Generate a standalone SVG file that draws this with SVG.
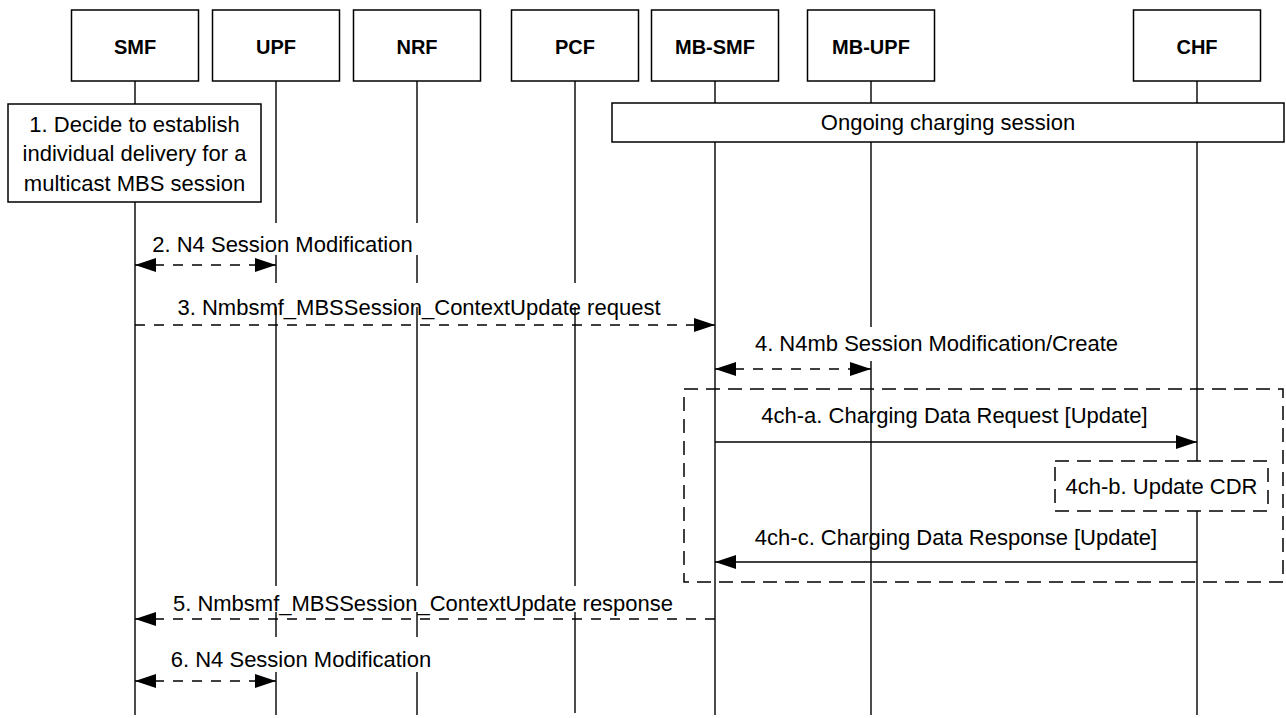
<svg xmlns="http://www.w3.org/2000/svg" width="1286" height="718" viewBox="0 0 1286 718">
<style>
.bg{fill:#fff}
.box{fill:#fff;stroke:#000;stroke-width:1.5}
.life{stroke:#000;stroke-width:1.4;fill:none}
.hdr{font-family:"Liberation Sans",Arial,sans-serif;font-weight:bold;font-size:20px;text-anchor:middle;fill:#000}
.t{font-family:"Liberation Sans",Arial,sans-serif;font-size:22px;text-anchor:middle;fill:#000}
.dash{stroke:#000;stroke-width:1.5;fill:none;stroke-dasharray:10 9}
.solid{stroke:#000;stroke-width:1.5;fill:none}
.dbox{fill:none;stroke:#000;stroke-width:1.5;stroke-dasharray:14 8}
.dboxw{fill:#fff;stroke:#000;stroke-width:1.5;stroke-dasharray:14 8}
.lbg{fill:#fff;stroke:none}
</style>
<defs>
<marker id="ah" markerUnits="userSpaceOnUse" markerWidth="21" markerHeight="14" refX="21" refY="7" orient="auto-start-reverse" viewBox="0 0 21 14">
<path d="M0,0 L21,7 L0,14 z" fill="#000"/>
</marker>
</defs>
<rect x="0" y="0" width="1286" height="718" fill="#fff"/>

<g id="lifelines">
<line class="life" x1="135" y1="81" x2="135" y2="715"/>
<line class="life" x1="276" y1="81" x2="276" y2="715"/>
<line class="life" x1="417" y1="81" x2="417" y2="715"/>
<line class="life" x1="575" y1="81" x2="575" y2="713"/>
<line class="life" x1="715" y1="81" x2="715" y2="715"/>
<line class="life" x1="871" y1="81" x2="871" y2="715"/>
<line class="life" x1="1197" y1="81" x2="1197" y2="715"/>
</g>

<g id="SMF"><rect class="box" x="71.5" y="10" width="127" height="71"/><text class="hdr" x="135" y="54">SMF</text></g>
<g id="UPF"><rect class="box" x="212.5" y="10" width="127" height="71"/><text class="hdr" x="276" y="54">UPF</text></g>
<g id="NRF"><rect class="box" x="353.5" y="10" width="127" height="71"/><text class="hdr" x="417" y="54">NRF</text></g>
<g id="PCF"><rect class="box" x="511.5" y="10" width="127" height="71"/><text class="hdr" x="575" y="54">PCF</text></g>
<g id="MB-SMF"><rect class="box" x="651.5" y="10" width="127" height="71"/><text class="hdr" x="715" y="54">MB-SMF</text></g>
<g id="MB-UPF"><rect class="box" x="807.5" y="10" width="127" height="71"/><text class="hdr" x="871" y="54">MB-UPF</text></g>
<g id="CHF"><rect class="box" x="1133.5" y="10" width="127" height="71"/><text class="hdr" x="1197" y="54">CHF</text></g>

<g id="step1">
<rect class="box" x="8" y="104" width="253" height="98"/>
<text class="t" x="134.5" y="132">1. Decide to establish</text>
<text class="t" x="134.5" y="161">individual delivery for a</text>
<text class="t" x="134.5" y="191">multicast MBS session</text>
</g>

<g id="ongoing">
<rect class="box" x="612" y="103" width="672" height="39"/>
<text class="t" x="948" y="130">Ongoing charging session</text>
</g>

<g id="charging-group">
<rect class="dbox" x="684" y="389" width="599" height="193"/>
</g>

<g id="step4ch-b">
<rect class="dboxw" x="1055" y="461" width="213" height="50"/>
<text class="t" x="1161.5" y="494">4ch-b. Update CDR</text>
</g>

<g id="connectors">
<rect class="lbg" x="143" y="223" width="280" height="32"/>
<text class="t" x="282.5" y="252">2. N4 Session Modification</text>
<line class="dash" x1="135" y1="265" x2="276" y2="265" marker-start="url(#ah)" marker-end="url(#ah)"/>

<rect class="lbg" x="165" y="283" width="508" height="24"/>
<text class="t" x="419" y="315">3. Nmbsmf_MBSSession_ContextUpdate request</text>
<line class="dash" x1="135" y1="325" x2="715" y2="325" marker-end="url(#ah)"/>

<rect class="lbg" x="742" y="327" width="390" height="34"/>
<text class="t" x="936.5" y="351">4. N4mb Session Modification/Create</text>
<line class="dash" x1="715" y1="369" x2="871" y2="369" marker-start="url(#ah)" marker-end="url(#ah)"/>

<text class="t" x="954.5" y="423">4ch-a. Charging Data Request [Update]</text>
<line class="solid" x1="715" y1="442" x2="1197" y2="442" marker-end="url(#ah)"/>

<text class="t" x="956" y="545">4ch-c. Charging Data Response [Update]</text>
<line class="solid" x1="1197" y1="562" x2="715" y2="562" marker-end="url(#ah)"/>

<rect class="lbg" x="160" y="586" width="525" height="26"/>
<text class="t" x="423" y="611">5. Nmbsmf_MBSSession_ContextUpdate response</text>
<line class="dash" x1="715" y1="619" x2="135" y2="619" marker-end="url(#ah)"/>

<rect class="lbg" x="160" y="637" width="282" height="35"/>
<text class="t" x="301" y="667">6. N4 Session Modification</text>
<line class="dash" x1="135" y1="681" x2="276" y2="681" marker-start="url(#ah)" marker-end="url(#ah)"/>
</g>
</svg>
